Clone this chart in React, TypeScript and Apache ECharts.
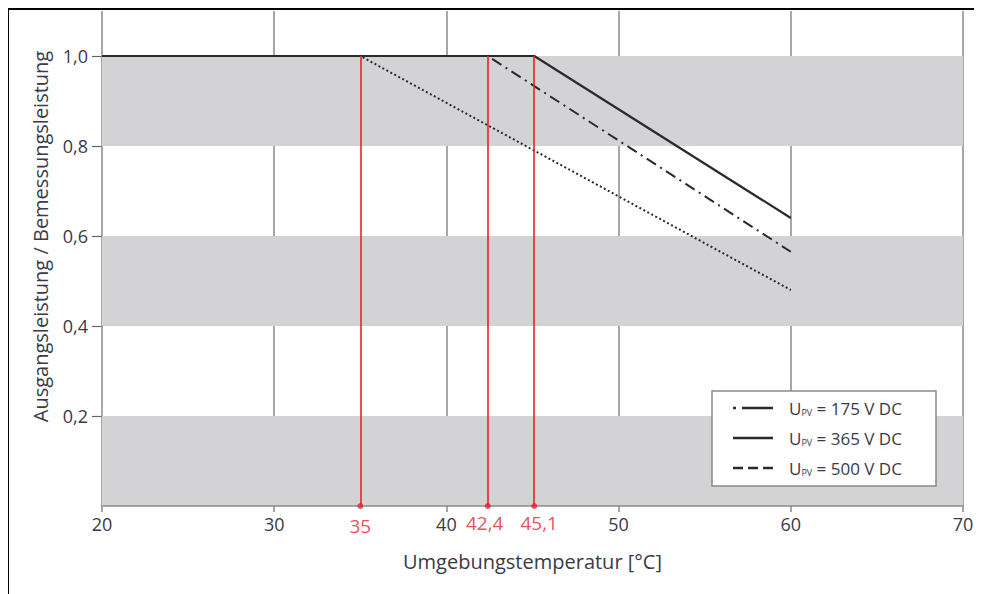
import React, { useEffect, useRef } from "react";
import * as echarts from "echarts";

// Data
const xTickValues = [20, 30, 40, 50, 60, 70];
const yTickValues = [0.2, 0.4, 0.6, 0.8, 1.0];
const grayBands = [[0, 0.2], [0.4, 0.6], [0.8, 1.0]];
const curve175 = [[20, 1], [42.4, 1], [60, 0.565]];
const curve365 = [[20, 1], [45.1, 1], [60, 0.64]];
const curve500 = [[20, 1], [35, 1], [60, 0.48]];
const markerTemps = [35, 42.4, 45.1];
const legendVoltages = ["175", "365", "500"];

const FONT = "Open Sans";
const TEXT = "#3a3a48";
const LINE = "#2a2a2a";
const RED = "#e8222c";

const fmt = (v: number) => String(v).replace(".", ",");

export default function App() {
  const ref = useRef<HTMLDivElement>(null);
  useEffect(() => {
    if (!ref.current) return;
    const chart = echarts.init(ref.current, undefined, { renderer: "svg" });

    const legendDash: any[] = [[3, 6, 40, 0], null, [10, 5]];
    const legendItems: any[] = [];
    legendVoltages.forEach((v, i) => {
      const y = 17 + i * 30;
      legendItems.push({
        type: "line",
        z: 101,
        shape: { x1: 21, y1: y, x2: 61, y2: y },
        style: { stroke: LINE, lineWidth: 2.4, lineDash: legendDash[i] || undefined },
      });
      legendItems.push({
        type: "text",
        z: 101,
        x: 77,
        y: y,
        style: {
          text: `{u|U}{s|PV}{t| = ${v} V DC}`,
          verticalAlign: "middle",
          rich: {
            u: { fontFamily: FONT, fontSize: 17, fill: TEXT },
            s: { fontFamily: FONT, fontSize: 9, fill: TEXT, padding: [9, 0, 0, 0] },
            t: { fontFamily: FONT, fontSize: 17, fill: TEXT },
          },
        },
      });
    });

    chart.setOption({
      animation: false,
      grid: { left: 94, top: 3, width: 861, height: 495 },
      xAxis: {
        type: "value",
        min: 20,
        max: 70,
        interval: 10,
        z: 1,
        name: "Umgebungstemperatur [°C]",
        nameLocation: "middle",
        nameGap: 45,
        nameTextStyle: { fontFamily: FONT, fontSize: 20, color: TEXT },
        axisLine: { show: true, lineStyle: { color: "#8a8a8a", width: 1.5 } },
        axisTick: { show: true, length: 6, lineStyle: { color: "#8a8a8a", width: 1.5 } },
        axisLabel: {
          fontFamily: FONT,
          fontSize: 18,
          color: TEXT,
          margin: 9,
          formatter: (v: number) => (xTickValues.includes(v) ? String(v) : ""),
        },
        splitLine: { show: true, lineStyle: { color: "#8a8a8a", width: 1.5 } },
      },
      yAxis: {
        type: "value",
        min: 0,
        max: 1.1,
        interval: 0.2,
        name: "Ausgangsleistung / Bemessungsleistung",
        nameLocation: "middle",
        nameGap: 52,
        nameTextStyle: { fontFamily: FONT, fontSize: 20, color: TEXT, padding: [0, 0, 0, 44] },
        axisLine: { show: false },
        axisTick: {
          show: true,
          length: 10,
          customValues: yTickValues,
          lineStyle: { color: "#666", width: 1.2 },
        },
        axisLabel: {
          fontFamily: FONT,
          fontSize: 18,
          color: TEXT,
          margin: 14,
          customValues: yTickValues,
          formatter: (v: number) => v.toFixed(1).replace(".", ","),
        },
        splitLine: { show: false },
        splitArea: { show: false },
      },
      series: [
        {
          name: "bands",
          type: "line",
          data: [],
          z: -5,
          silent: true,
          markArea: {
            silent: true,
            itemStyle: { color: "#d3d3d5" },
            label: { show: false },
            data: grayBands.map((b) => [{ yAxis: b[0] }, { yAxis: b[1] }]),
          },
        },
        {
          name: "175",
          type: "line",
          data: curve175,
          symbol: "none",
          lineStyle: { color: LINE, width: 2, type: [11, 5, 2, 5] },
          z: 3,
        },
        {
          name: "500",
          type: "line",
          data: curve500,
          symbol: "none",
          lineStyle: { color: LINE, width: 2, type: [2, 2.5] },
          z: 3,
        },
        {
          name: "365",
          type: "line",
          data: curve365,
          symbol: "none",
          lineStyle: { color: LINE, width: 2.2, type: "solid" },
          z: 4,
        },
        {
          name: "markers",
          type: "scatter",
          data: markerTemps.map((t, i) => ({
            value: [t, 0],
            label: { offset: i === 0 ? [0, 3] : [i === 2 ? 5 : -3, 0] },
          })),
          symbol: "circle",
          symbolSize: 6,
          itemStyle: { color: RED },
          label: {
            show: true,
            position: "bottom",
            distance: 4,
            fontFamily: FONT,
            fontSize: 19,
            color: RED,
            formatter: (p: any) => fmt(p.value[0]),
          },
          markLine: {
            silent: true,
            symbol: ["none", "none"],
            label: { show: false },
            lineStyle: { color: RED, width: 1.6, type: "solid" },
            data: markerTemps.map((t) => [{ coord: [t, 0] }, { coord: [t, 1] }]),
          },
          z: 5,
        },
      ],
      graphic: [
        {
          type: "line",
          z: 200,
          shape: { x1: 0, y1: 1, x2: 974, y2: 1 },
          style: { stroke: "#000", lineWidth: 2 },
        },
        {
          type: "line",
          z: 200,
          shape: { x1: 0, y1: 0, x2: 0, y2: 586 },
          style: { stroke: "#000", lineWidth: 2 },
        },
        {
          type: "group",
          x: 704,
          y: 383,
          z: 100,
          children: [
            {
              type: "rect",
              z: 100,
              shape: { x: 0, y: 0, width: 224, height: 95 },
              style: { fill: "#fff", stroke: "#8a8a8a", lineWidth: 1.5 },
            },
            ...legendItems,
          ],
        },
      ],
    });
    return () => chart.dispose();
  }, []);
  return <div ref={ref} style={{ width: 974, height: 586 }} />;
}
